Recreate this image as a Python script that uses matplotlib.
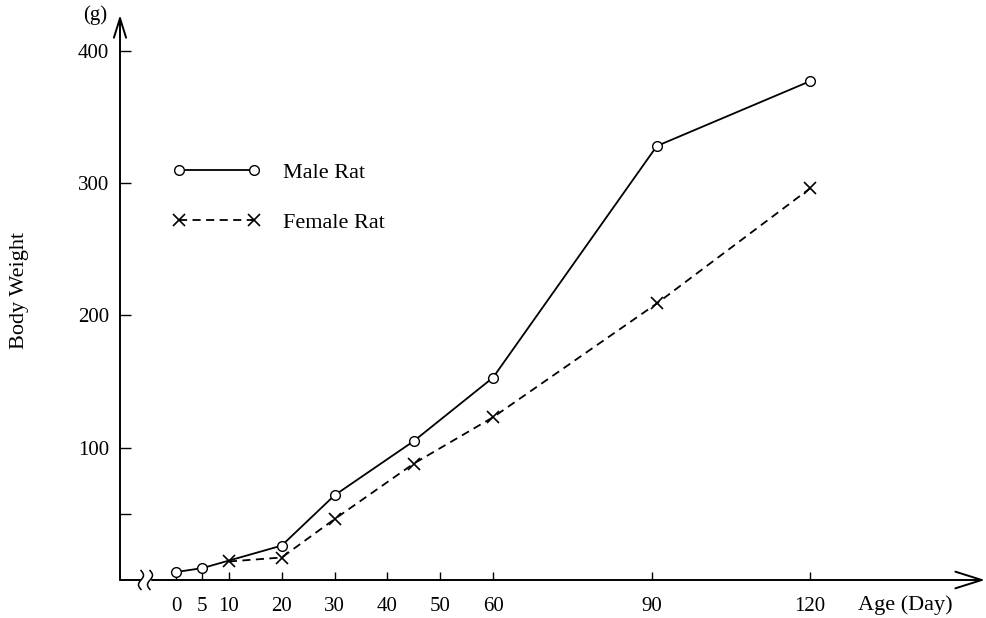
import matplotlib.pyplot as plt
import numpy as np

# growth of male and female rats (body weight in g by age in days)
age_ticks = [0, 5, 10, 20, 30, 40, 50, 60, 90, 120]
weight_ticks = [50, 100, 200, 300, 400]
weight_labels = ['', '100', '200', '300', '400']

male_age = [0, 5, 20, 30, 45, 60, 91, 120]
male_weight = [6, 9, 26, 64, 105, 153, 328, 377]

female_age = [10, 20, 30, 45, 60, 91, 120]
female_weight = [14, 17, 46, 88, 123, 209, 296]


def plot():
  plt.rcParams['font.family'] = ['Liberation Serif', 'DejaVu Serif']
  fig = plt.figure(figsize=(9.86, 6.18), dpi=100)
  W, H = 986, 618
  #axes box: y axis at x=120 px, x axis at y=580 px
  ax = fig.add_axes([120 / W, (H - 580) / H, (985 - 120) / W, (580 - 15) / H])

  ax.plot(male_age, male_weight, color='black', lw=1.3, marker='o', ms=7,
          mfc='white', mec='black', mew=1.0, label='Male Rat', zorder=3)
  ax.plot(female_age, female_weight, color='black', lw=1.3,
          linestyle=(0, (4.5, 3)), marker='x', ms=9, mew=1.2,
          label='Female Rat', zorder=3)

  ax.set_xlim(-10.6, 153.1)
  ax.set_ylim(0, 427)
  for s in ax.spines.values():
    s.set_visible(False)

  ax.set_xticks(age_ticks)
  ax.set_xticklabels([str(a) for a in age_ticks])
  ax.set_yticks(weight_ticks)
  ax.set_yticklabels(weight_labels)
  ax.tick_params(axis='x', direction='in', length=6, width=1.0, pad=12,
                 labelsize=15)
  ax.tick_params(axis='y', direction='in', length=8, width=1.0, pad=8,
                 labelsize=15)

  #axis lines with open arrow heads
  ax.annotate('', xy=(1, 0), xytext=(0, 0), xycoords='axes fraction',
              arrowprops=dict(arrowstyle='->,head_length=0.95,head_width=0.3',
                              lw=1.4, color='black', mutation_scale=20,
                              shrinkA=0, shrinkB=0))
  ax.annotate('', xy=(0, 1), xytext=(0, 0), xycoords='axes fraction',
              arrowprops=dict(arrowstyle='->,head_length=0.7,head_width=0.22',
                              lw=1.4, color='black', mutation_scale=20,
                              shrinkA=0, shrinkB=0))

  #break mark on the x axis: white gap and two wavy strokes
  fig.patches.append(plt.Rectangle((141 / W, (H - 583) / H), 9 / W, 6 / H,
                                   transform=fig.transFigure, color='white',
                                   zorder=5))
  t = np.linspace(-1, 1, 40)
  for px in (141, 150):
    xs = (px + 2.5 * np.sin(np.pi * t)) / W
    ys = (H - 580 + 9.5 * t) / H
    fig.add_artist(plt.Line2D(xs, ys, color='black', lw=1.1,
                              transform=fig.transFigure, zorder=6))

  ax.legend(loc='upper left', bbox_to_anchor=(172 / W, 1 - 162 / H),
            bbox_transform=fig.transFigure, frameon=False, numpoints=2,
            handlelength=4.0, handletextpad=1.0, labelspacing=1.35,
            borderpad=0, borderaxespad=0, fontsize=16)

  fig.text(20 / W, 1 - 290 / H, 'Body Weight', rotation=90, ha='center',
           va='center', fontsize=16)
  fig.text(107 / W, 1 - 15 / H, '(g)', ha='right', va='center', fontsize=15)
  fig.text(858 / W, 1 - 605 / H, 'Age (Day)', ha='left', va='center',
           fontsize=16)

  fig.savefig('out.png', dpi=100)


if __name__ == '__main__':
  plot()
